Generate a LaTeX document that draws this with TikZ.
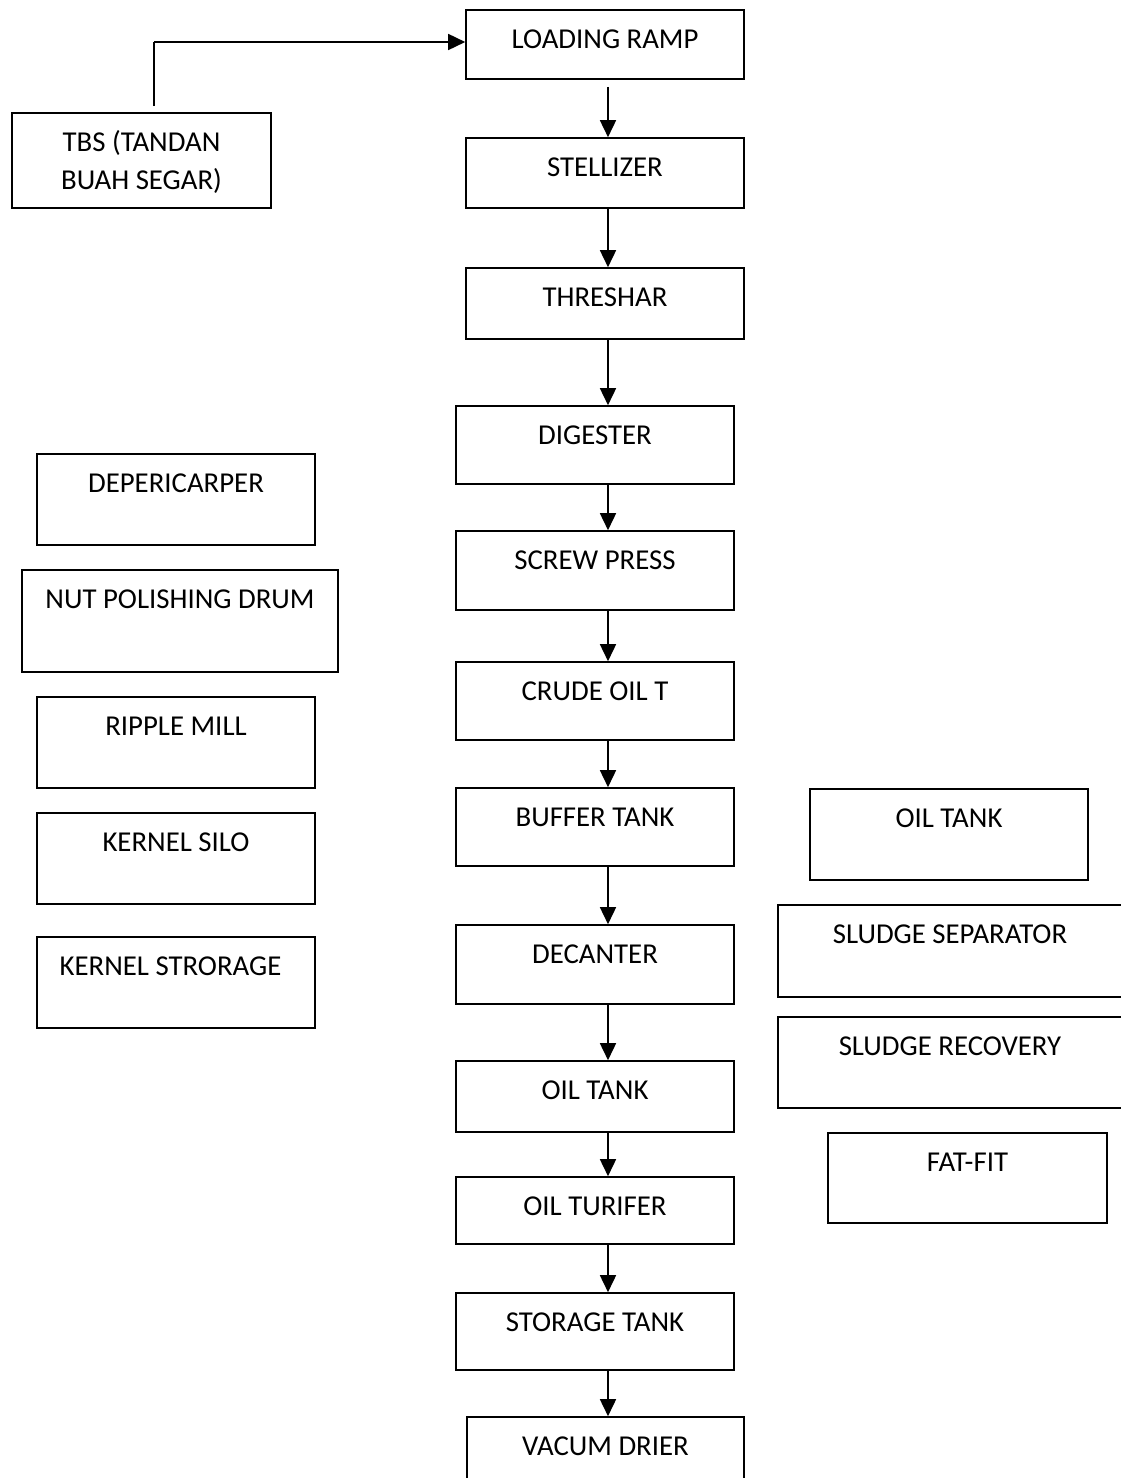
\documentclass[tikz,border=0pt]{standalone}
\usepackage{fontspec}
\setmainfont{Carlito}
\usetikzlibrary{arrows.meta}
\newcommand\bx[6]{\node[bx, minimum width={#3-#2}, minimum height={#5-#4}, label={[lab]north:{#6}}] (#1) at ({(#2+#3)/2},{(#4+#5)/2}) {};}
\begin{document}
\begin{tikzpicture}[x=1pt,y=-1pt,
  bx/.style={draw, line width=1.6pt, inner sep=0pt, rectangle},
  lab/.style={anchor=base, yshift=-39pt, font=\fontsize{28.8}{34}\selectfont, inner sep=0pt},
  arr/.style={line width=1.6pt, -{Triangle[length=17pt,width=16pt]}}]
\useasboundingbox (0,0) rectangle (1121,1478);
\clip (0,0) rectangle (1121,1478);
% main column
\bx{lr}{466}{744}{10}{79}{LOADING RAMP}
\bx{st}{466}{744}{138}{208}{STELLIZER}
\bx{th}{466}{744}{268}{339}{THRESHAR}
\bx{dg}{456}{734}{406}{484}{DIGESTER}
\bx{sp}{456}{734}{531}{610}{SCREW PRESS}
\bx{co}{456}{734}{662}{740}{CRUDE OIL T}
\bx{bt}{456}{734}{788}{866}{BUFFER TANK}
\bx{dc}{456}{734}{925}{1004}{DECANTER}
\bx{ot}{456}{734}{1061}{1132}{OIL TANK}
\bx{tu}{456}{734}{1177}{1244}{OIL TURIFER}
\bx{stt}{456}{734}{1293}{1370}{STORAGE TANK}
\bx{vd}{467}{744}{1417}{1520}{VACUM DRIER}
% left column
\bx{dep}{37}{315}{454}{545}{DEPERICARPER}
\bx{nut}{22}{338}{570}{672}{NUT POLISHING DRUM}
\bx{rip}{37}{315}{697}{788}{RIPPLE MILL}
\bx{ks}{37}{315}{813}{904}{KERNEL SILO}
\bx{kst}{37}{315}{937}{1028}{KERNEL STRORAGE\kern11pt}
% right column
\bx{ot2}{810}{1088}{789}{880}{OIL TANK}
\bx{ss}{778}{1122}{905}{997}{SLUDGE SEPARATOR}
\bx{sr}{778}{1122}{1017}{1108}{SLUDGE RECOVERY}
\bx{ff}{828}{1107}{1133}{1223}{FAT-FIT}
% TBS
\node[bx, minimum width=259, minimum height=95] (tbs) at (141.5,160.5) {};
\node[lab] (tbs1) at (tbs.north) {TBS (TANDAN};
\node[lab, yshift=-38pt] (tbs2) at (tbs.north) {BUAH SEGAR)};
% arrows
\coordinate (ax) at (608,0);
\coordinate (tx) at (154,0);
\coordinate (ty) at (0,42);
\draw[line width=1.6pt] ([yshift=6pt]tbs.north -| tx) -- (tx |- ty);
\draw[arr] (tx |- ty) -- (lr.west |- ty);
\draw[arr] ([yshift=-7pt]lr.south -| ax) -- (st.north -| ax);
\draw[arr] (st.south -| ax) -- (th.north -| ax);
\draw[arr] (th.south -| ax) -- (dg.north -| ax);
\draw[arr] (dg.south -| ax) -- (sp.north -| ax);
\draw[arr] (sp.south -| ax) -- (co.north -| ax);
\draw[arr] (co.south -| ax) -- (bt.north -| ax);
\draw[arr] (bt.south -| ax) -- (dc.north -| ax);
\draw[arr] (dc.south -| ax) -- (ot.north -| ax);
\draw[arr] (ot.south -| ax) -- (tu.north -| ax);
\draw[arr] (tu.south -| ax) -- (stt.north -| ax);
\draw[arr] (stt.south -| ax) -- (vd.north -| ax);
\end{tikzpicture}
\end{document}
